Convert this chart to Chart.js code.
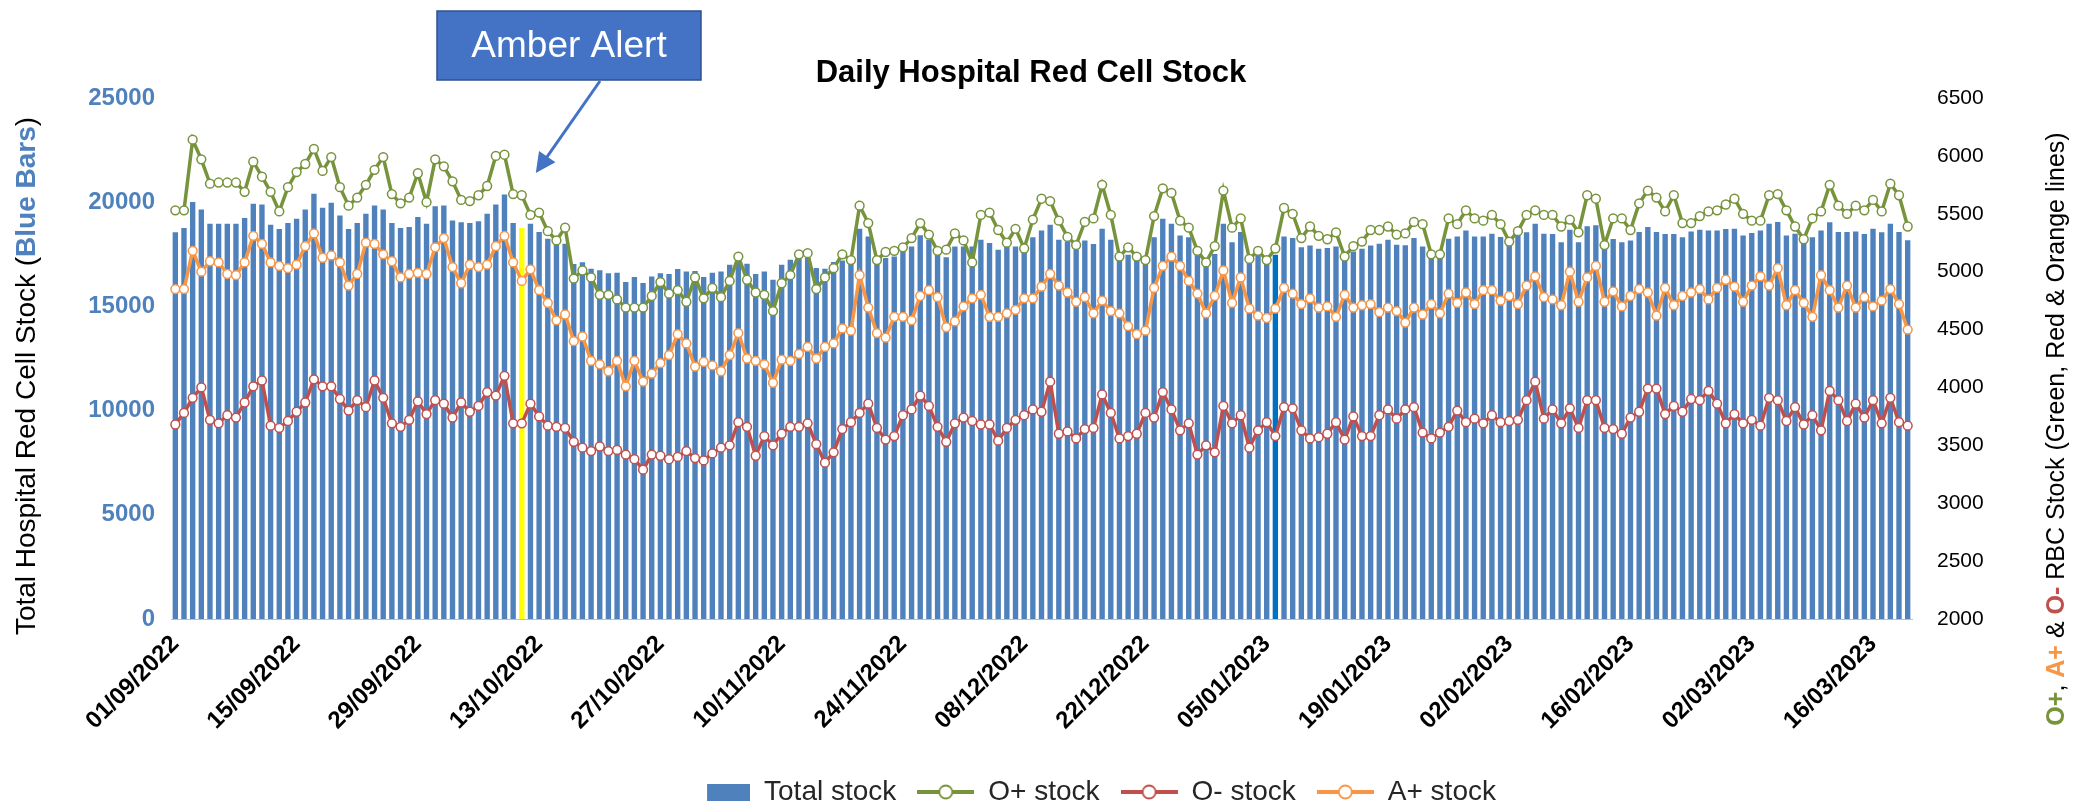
<!DOCTYPE html>
<html>
<head>
<meta charset="utf-8">
<title>Daily Hospital Red Cell Stock</title>
<script src="https://cdn.jsdelivr.net/npm/chart.js@4.4.1/dist/chart.umd.min.js"></script>
<style>
    html, body { margin: 0; padding: 0; background: #ffffff; }
    #wrap { width: 2087px; height: 806px; }
</style>
</head>
<body>
<div id="wrap"><canvas id="stockChart" width="2087" height="806"></canvas></div>
<script>
// daily values, 01/09/2022 .. 20/03/2023 (201 days)
const totalStock = [
    18560, 18760, 20010, 19650, 18970, 18970, 18960, 18970, 19240, 19920,
    19890, 18920, 18720, 19000, 19210, 19650, 20410, 19730, 19970, 19360,
    18720, 19000, 19440, 19840, 19650, 19000, 18760, 18810, 19290, 18960,
    19810, 19840, 19120, 19040, 19000, 19080, 19440, 19890, 20370, 19000,
    18760, 18960, 18570, 18250, 18040, 18010, 17040, 17120, 16810, 16730,
    16590, 16620, 16170, 16410, 16120, 16430, 16590, 16560, 16800, 16670,
    16700, 16410, 16620, 16670, 17000, 17160, 17050, 16560, 16680, 16280,
    17000, 17240, 17320, 17320, 16840, 16810, 17130, 17200, 17160, 18730,
    18360, 17290, 17320, 17400, 17640, 17880, 18410, 18200, 17480, 17360,
    17880, 17880, 17880, 18200, 18040, 17720, 17880, 17880, 17960, 18320,
    18640, 18920, 18200, 18120, 17720, 18160, 18000, 18730, 18200, 17480,
    17480, 17240, 17240, 18320, 19210, 18970, 18400, 18320, 17720, 17320,
    17520, 18970, 18080, 18570, 17400, 17480, 17400, 17480, 18360, 18280,
    17840, 17920, 17770, 17800, 17880, 17640, 17640, 17770, 17920, 18010,
    18200, 17960, 17930, 18280, 17880, 17560, 17560, 18250, 18360, 18640,
    18360, 18360, 18490, 18330, 18200, 18440, 18560, 18960, 18490, 18480,
    18080, 18680, 18080, 18840, 18890, 17960, 18240, 18080, 18160, 18570,
    18810, 18570, 18480, 18480, 18320, 18600, 18680, 18640, 18640, 18720,
    18730, 18400, 18520, 18640, 18960, 19050, 18400, 18490, 18360, 18320,
    18640, 19040, 18570, 18570, 18600, 18480, 18730, 18560, 18960, 18570,
    18170
];
const oPosStock = [
    5530, 5530, 6140, 5970, 5760, 5770, 5770, 5770, 5690, 5950,
    5820, 5690, 5520, 5730, 5860, 5930, 6060, 5870, 5990, 5730,
    5570, 5640, 5750, 5880, 5990, 5670, 5590, 5640, 5850, 5600,
    5970, 5910, 5780, 5620, 5610, 5660, 5740, 6000, 6010, 5670,
    5660, 5490, 5510, 5350, 5270, 5380, 4940, 5010, 4950, 4800,
    4800, 4760, 4690, 4690, 4690, 4790, 4910, 4810, 4840, 4740,
    4950, 4770, 4860, 4780, 4920, 5130, 4930, 4820, 4800, 4660,
    4900, 4970, 5150, 5160, 4850, 4950, 5030, 5150, 5100, 5570,
    5420, 5100, 5170, 5180, 5210, 5290, 5420, 5320, 5180, 5190,
    5330, 5270, 5080, 5490, 5510, 5360, 5250, 5370, 5200, 5450,
    5630, 5610, 5440, 5300, 5230, 5430, 5460, 5750, 5490, 5130,
    5210, 5130, 5100, 5480, 5720, 5680, 5440, 5380, 5180, 5080,
    5220, 5700, 5380, 5460, 5110, 5180, 5100, 5200, 5550, 5500,
    5290, 5390, 5310, 5280, 5340, 5130, 5220, 5260, 5360, 5360,
    5390, 5320, 5330, 5430, 5410, 5150, 5150, 5460, 5410, 5530,
    5460, 5440, 5490, 5410, 5260, 5350, 5490, 5530, 5490, 5490,
    5390, 5450, 5340, 5660, 5630, 5230, 5460, 5460, 5360, 5590,
    5700, 5640, 5520, 5660, 5420, 5420, 5480, 5520, 5530, 5580,
    5630, 5500, 5440, 5440, 5660, 5670, 5530, 5390, 5280, 5460,
    5520, 5750, 5570, 5500, 5570, 5530, 5620, 5520, 5760, 5660,
    5390
];
const oNegStock = [
    3680, 3780, 3910, 4000, 3720, 3690, 3760, 3740, 3870, 4010,
    4060, 3670, 3650, 3710, 3790, 3870, 4070, 4010, 4010, 3900,
    3800, 3890, 3830, 4060, 3910, 3690, 3660, 3720, 3880, 3770,
    3890, 3860, 3740, 3870, 3790, 3840, 3960, 3930, 4100, 3690,
    3690, 3860, 3750, 3670, 3660, 3650, 3530, 3480, 3450, 3490,
    3450, 3460, 3420, 3380, 3290, 3420, 3410, 3380, 3400, 3450,
    3390, 3370, 3430, 3480, 3500, 3700, 3660, 3410, 3580, 3500,
    3600, 3660, 3660, 3690, 3510, 3350, 3440, 3640, 3700, 3780,
    3860, 3650, 3550, 3580, 3760, 3810, 3930, 3840, 3660, 3530,
    3690, 3740, 3710, 3680, 3680, 3540, 3650, 3720, 3760, 3810,
    3790, 4050, 3600, 3620, 3560, 3640, 3650, 3940, 3780, 3560,
    3580, 3600, 3780, 3740, 3960, 3810, 3630, 3690, 3420, 3500,
    3440, 3840, 3690, 3760, 3480, 3630, 3700, 3580, 3830, 3820,
    3630, 3560, 3570, 3600, 3700, 3550, 3750, 3580, 3580, 3760,
    3810, 3730, 3810, 3830, 3610, 3560, 3610, 3660, 3800, 3700,
    3730, 3690, 3760, 3700, 3710, 3720, 3890, 4050, 3730, 3810,
    3690, 3820, 3650, 3890, 3890, 3650, 3640, 3600, 3740, 3790,
    3990, 3990, 3770, 3840, 3790, 3900, 3890, 3970, 3860, 3690,
    3770, 3690, 3720, 3670, 3910, 3890, 3710, 3830, 3680, 3760,
    3630, 3970, 3890, 3710, 3860, 3740, 3890, 3690, 3910, 3700,
    3670
];
const aPosStock = [
    4850, 4850, 5180, 5000, 5090, 5080, 4980, 4970, 5080, 5310,
    5240, 5080, 5050, 5030, 5060, 5220, 5330, 5120, 5140, 5080,
    4880, 4980, 5250, 5240, 5150, 5090, 4950, 4980, 4990, 4980,
    5210, 5290, 5040, 4900, 5060, 5040, 5060, 5220, 5310, 5080,
    4920, 5020, 4840, 4730, 4580, 4630, 4400, 4440, 4230, 4200,
    4140, 4230, 4010, 4230, 4050, 4120, 4210, 4280, 4460, 4380,
    4180, 4220, 4190, 4140, 4280, 4470, 4250, 4230, 4200, 4040,
    4240, 4230, 4290, 4350, 4250, 4350, 4380, 4510, 4490, 4970,
    4690, 4470, 4430, 4610, 4610, 4580, 4790, 4840, 4780, 4520,
    4570, 4700, 4770, 4800, 4610, 4610, 4640, 4670, 4770, 4770,
    4870, 4980, 4880, 4820, 4740, 4780, 4640, 4750, 4660, 4640,
    4530, 4460, 4490, 4860, 5050, 5130, 5050, 4920, 4810, 4640,
    4790, 5010, 4730, 4950, 4680, 4620, 4600, 4680, 4860, 4810,
    4720, 4770, 4690, 4700, 4610, 4800, 4690, 4710, 4720, 4650,
    4690, 4660, 4560, 4690, 4630, 4720, 4640, 4810, 4730, 4820,
    4720, 4840, 4840, 4750, 4790, 4720, 4880, 4960, 4780, 4760,
    4710, 5000, 4740, 4950, 5050, 4740, 4830, 4700, 4790, 4850,
    4820, 4620, 4860, 4710, 4790, 4820, 4850, 4760, 4860, 4930,
    4870, 4740, 4880, 4960, 4880, 5030, 4710, 4840, 4730, 4610,
    4970, 4840, 4690, 4880, 4690, 4780, 4700, 4750, 4850, 4720,
    4500
];

const seriesNames = ['Total stock', 'O+ stock', 'O- stock', 'A+ stock'];
const leftTicks = [0, 5000, 10000, 15000, 20000, 25000];
const rightTicks = [2000, 2500, 3000, 3500, 4000, 4500, 5000, 5500, 6000, 6500];
const amberIndex = 40;   // 11/10/2022, yellow bar
const markedIndex = 127; // 06/01/2023, dark blue bar
const labelEvery = 14;
const legendShift = 51;  // legend sits right of centre in the original

const BLUE = '#4F81BD';
const GREEN = '#77933C';
const RED = '#C0504D';
const ORANGE = '#F79646';
const FONT = "'Liberation Sans', Arial, sans-serif";

// category labels dd/mm/yyyy
const dates = [];
for (let i = 0; i < totalStock.length; i++) {
    const d = new Date(2022, 8, 1 + i);
    const dd = String(d.getDate()).padStart(2, '0');
    const mm = String(d.getMonth() + 1).padStart(2, '0');
    dates.push(dd + '/' + mm + '/' + d.getFullYear());
}

const barColours = totalStock.map((v, i) => {
    if (i === amberIndex) return '#FFFF00';
    if (i === markedIndex) return '#0070C0';
    return BLUE;
});

/**
 * small legend swatch: a block for bars, a line with a hollow marker for lines
 */
function legendIcon(kind, colour) {
    const c = document.createElement('canvas');
    c.width = 57;
    c.height = 20;
    const g = c.getContext('2d');
    if (kind === 'bar') {
        g.fillStyle = colour;
        g.fillRect(14, 2, 43, 17);
    } else {
        g.strokeStyle = colour;
        g.lineWidth = 4;
        g.beginPath();
        g.moveTo(0, 10);
        g.lineTo(57, 10);
        g.stroke();
        g.beginPath();
        g.arc(28.5, 10, 6.5, 0, Math.PI * 2);
        g.fillStyle = '#fff';
        g.fill();
        g.lineWidth = 1.8;
        g.stroke();
    }
    return c;
}
const legendIcons = [
    legendIcon('bar', BLUE),
    legendIcon('line', GREEN),
    legendIcon('line', RED),
    legendIcon('line', ORANGE)
];

// title, axis titles with coloured words, and the call-out box
const decorations = {
    id: 'decorations',
    beforeDraw(chart) {
        // nudge the legend sideways once
        const lg = chart.legend;
        if (lg && !lg._shifted) {
            const baseDraw = lg.draw;
            lg.draw = function (area) {
                this.ctx.save();
                this.ctx.translate(legendShift, 0);
                baseDraw.call(this, area);
                this.ctx.restore();
            };
            lg._shifted = true;
        }
    },
    afterDraw(chart) {
        const ctx = chart.ctx;
        const xs = chart.scales.x;
        const yl = chart.scales.y;
        ctx.save();

        // chart title
        ctx.fillStyle = '#000';
        ctx.font = "bold 31px " + FONT;
        ctx.textAlign = 'center';
        ctx.textBaseline = 'middle';
        ctx.fillText('Daily Hospital Red Cell Stock', 1031, 73);

        // left axis title
        drawRotatedParts(ctx, 27, 376, [
            { t: 'Total Hospital Red Cell Stock (', c: '#000', b: false },
            { t: 'Blue Bars', c: BLUE, b: true },
            { t: ')', c: '#000', b: false }
        ], 28);

        // right axis title
        drawRotatedParts(ctx, 2057, 429, [
            { t: 'O+', c: GREEN, b: true },
            { t: ', ', c: '#000', b: false },
            { t: 'A+', c: ORANGE, b: true },
            { t: ' & ', c: '#000', b: false },
            { t: 'O-', c: RED, b: true },
            { t: ' RBC Stock (Green, Red & Orange lines)', c: '#000', b: false }
        ], 25);

        // Amber Alert call-out
        const bx = 437, by = 11, bw = 264, bh = 69;
        ctx.fillStyle = '#4472C4';
        ctx.fillRect(bx, by, bw, bh);
        ctx.strokeStyle = '#2F528F';
        ctx.lineWidth = 1.5;
        ctx.strokeRect(bx, by, bw, bh);
        ctx.fillStyle = '#fff';
        ctx.font = "37px " + FONT;
        ctx.fillText('Amber Alert', bx + bw / 2, by + bh / 2 + 1);

        // arrow from the box down to the alert day
        const tipX = xs.getPixelForValue(amberIndex) + 14;
        const tipY = yl.getPixelForValue(21400);
        const fromX = 600, fromY = 81;
        const ang = Math.atan2(tipY - fromY, tipX - fromX);
        ctx.strokeStyle = '#4472C4';
        ctx.fillStyle = '#4472C4';
        ctx.lineWidth = 3;
        ctx.beginPath();
        ctx.moveTo(fromX, fromY);
        ctx.lineTo(tipX - 12 * Math.cos(ang), tipY - 12 * Math.sin(ang));
        ctx.stroke();
        ctx.beginPath();
        ctx.moveTo(tipX, tipY);
        ctx.lineTo(tipX - 20 * Math.cos(ang) + 10 * Math.sin(ang), tipY - 20 * Math.sin(ang) - 10 * Math.cos(ang));
        ctx.lineTo(tipX - 20 * Math.cos(ang) - 10 * Math.sin(ang), tipY - 20 * Math.sin(ang) + 10 * Math.cos(ang));
        ctx.closePath();
        ctx.fill();

        ctx.restore();
    }
};

function drawRotatedParts(ctx, cx, cy, parts, size) {
    ctx.save();
    ctx.translate(cx, cy);
    ctx.rotate(-Math.PI / 2);
    ctx.textBaseline = 'middle';
    ctx.textAlign = 'left';
    let total = 0;
    parts.forEach(p => {
        ctx.font = (p.b ? 'bold ' : '') + size + 'px ' + FONT;
        p.w = ctx.measureText(p.t).width;
        total += p.w;
    });
    let x = -total / 2;
    parts.forEach(p => {
        ctx.font = (p.b ? 'bold ' : '') + size + 'px ' + FONT;
        ctx.fillStyle = p.c;
        ctx.fillText(p.t, x, 0);
        x += p.w;
    });
    ctx.restore();
}

const lineStyle = (colour) => ({
    type: 'line',
    yAxisID: 'y1',
    borderColor: colour,
    backgroundColor: colour,
    borderWidth: 3.5,
    pointRadius: 4.4,
    pointBorderWidth: 1.5,
    pointBackgroundColor: '#ffffff',
    pointBorderColor: colour,
    tension: 0,
    fill: false
});

const chart = new Chart(document.getElementById('stockChart'), {
    data: {
        labels: dates,
        datasets: [
            {
                type: 'bar',
                label: seriesNames[0],
                data: totalStock,
                yAxisID: 'y',
                backgroundColor: barColours,
                barPercentage: 0.62,
                categoryPercentage: 1,
                order: 10
            },
            Object.assign(lineStyle(GREEN), { label: seriesNames[1], data: oPosStock, order: 3 }),
            Object.assign(lineStyle(RED), { label: seriesNames[2], data: oNegStock, order: 2 }),
            Object.assign(lineStyle(ORANGE), { label: seriesNames[3], data: aPosStock, order: 1 })
        ]
    },
    options: {
        responsive: false,
        animation: false,
        devicePixelRatio: 1,
        layout: { padding: { top: 98, left: 0, right: 0, bottom: -10 } },
        plugins: {
            title: { display: false },
            tooltip: { enabled: false },
            legend: {
                position: 'bottom',
                labels: {
                    usePointStyle: true,
                    pointStyleWidth: 57,
                    padding: 21,
                    color: '#262626',
                    font: { family: FONT, size: 28 },
                    sort: (a, b) => a.datasetIndex - b.datasetIndex,
                    generateLabels(chart) {
                        const items = Chart.defaults.plugins.legend.labels.generateLabels(chart);
                        items.forEach(it => { it.pointStyle = legendIcons[it.datasetIndex]; });
                        return items;
                    }
                }
            }
        },
        scales: {
            x: {
                offset: true,
                grid: { display: false },
                border: { display: true, color: '#bfbfbf' },
                ticks: {
                    autoSkip: false,
                    minRotation: 45,
                    maxRotation: 45,
                    color: '#000',
                    font: { family: FONT, size: 24, weight: 'bold' },
                    callback: function (value, index) {
                        return index % labelEvery === 0 ? dates[index] : null;
                    }
                },
                afterFit(scale) { scale.height = 138; }
            },
            y: {
                position: 'left',
                min: leftTicks[0],
                max: leftTicks[leftTicks.length - 1],
                grid: { display: false },
                border: { display: false },
                afterBuildTicks(scale) { scale.ticks = leftTicks.map(v => ({ value: v })); },
                ticks: {
                    color: BLUE,
                    padding: 8,
                    font: { family: FONT, size: 24, weight: 'bold' },
                    callback: v => String(v)
                },
                afterFit(scale) { scale.width = 171; }
            },
            y1: {
                position: 'right',
                min: rightTicks[0],
                max: rightTicks[rightTicks.length - 1],
                grid: { display: false },
                border: { display: false },
                afterBuildTicks(scale) { scale.ticks = rightTicks.map(v => ({ value: v })); },
                ticks: {
                    color: '#000',
                    padding: 17,
                    font: { family: FONT, size: 21 },
                    callback: v => String(v)
                },
                afterFit(scale) { scale.width = 175; }
            }
        }
    },
    plugins: [decorations]
});
</script>
</body>
</html>
